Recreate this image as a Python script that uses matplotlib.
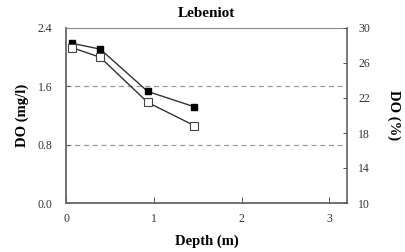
import matplotlib
matplotlib.use("Agg")
import matplotlib.pyplot as plt

depth = [0.07, 0.39, 0.93, 1.46]
do_mgl = [2.19, 2.11, 1.53, 1.32]
do_pct = [27.75, 26.65, 21.5, 18.85]

plt.rcParams['font.family'] = ['Liberation Serif', 'DejaVu Serif']

fig = plt.figure(figsize=(4.05, 2.52), dpi=100)
ax = fig.add_axes([66/405, 1-203/252, (347-66)/405, (203-28)/252])
ax2 = ax.twinx()

ax.set_xlim(0, 3.2)
ax.set_ylim(0, 2.4)
ax2.set_ylim(10, 30)
ax.set_xticks([0, 1, 2, 3])
ax.set_yticks([0.0, 0.8, 1.6, 2.4])
ax.set_yticklabels(['0.0', '0.8', '1.6', '2.4'])
ax2.set_yticks([10, 14, 18, 22, 26, 30])

for y in [0.8, 1.6]:
    ax.axhline(y, color='#999999', lw=0.9, ls=(0, (4, 3)), zorder=1)

ax.plot(depth, do_mgl, color='#333333', lw=1.0, marker='s', ms=5,
        mfc='black', mec='black', zorder=3)
ax2.plot(depth, do_pct, color='#333333', lw=1.0, marker='s', ms=6,
         mfc='white', mec='#444444', mew=0.8, zorder=3)

ax.tick_params(axis='y', direction='in', length=3, width=0.7, pad=10,
               labelsize=8.5, colors='#555555', labelcolor='#333333')
ax.tick_params(axis='x', direction='in', length=4, width=0.7, labelsize=8.5,
               colors='#555555', labelcolor='#333333', pad=7)
ax2.tick_params(axis='y', direction='in', length=3, width=0.7, labelsize=8.5,
                colors='#555555', labelcolor='#333333', pad=8)

for sp in ['left', 'bottom']:
    ax.spines[sp].set_color('#666666')
    ax.spines[sp].set_linewidth(1.3)
ax.spines['top'].set_color('#888888')
ax.spines['top'].set_linewidth(0.8)
ax.spines['right'].set_visible(False)
ax2.spines['right'].set_color('#555555')
ax2.spines['right'].set_linewidth(1.1)
ax2.spines['top'].set_visible(False)
ax2.spines['left'].set_visible(False)
ax2.spines['bottom'].set_visible(False)

ax.set_title('Lebeniot', fontsize=11, fontweight='bold', pad=8)
ax.set_xlabel('Depth (m)', fontsize=10.5, fontweight='bold', labelpad=7)
ax.set_ylabel('DO (mg/l)', fontsize=10.5, fontweight='bold', labelpad=6)
ax2.set_ylabel('DO (%)', fontsize=10.5, fontweight='bold', rotation=270, labelpad=22)

fig.savefig('out.png', dpi=100)
